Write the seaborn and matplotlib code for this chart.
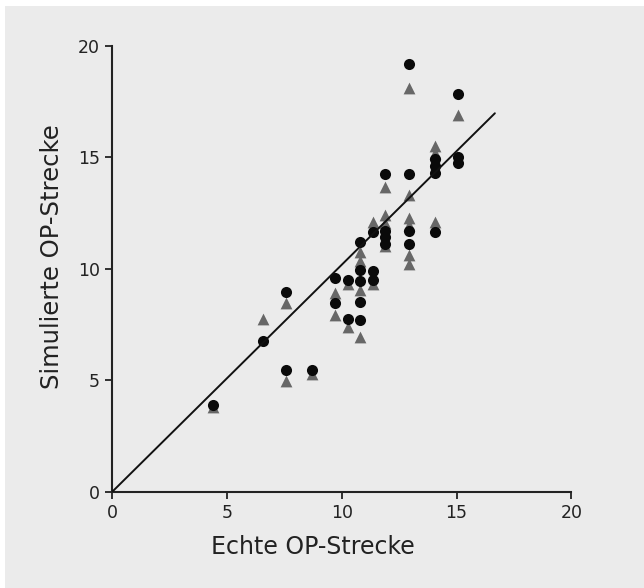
import matplotlib
matplotlib.use("Agg")
import matplotlib.pyplot as plt
import seaborn as sns
from matplotlib.patches import Rectangle

# ---- data ----
circle_x = [4.4, 6.57, 7.59, 7.59, 8.68, 9.69, 9.69, 10.28, 10.28,
            10.8, 10.8, 10.8, 10.8, 10.8, 11.37, 11.37, 11.37,
            11.9, 11.9, 11.9, 11.9, 12.93, 12.93, 12.93, 12.93,
            14.05, 14.05, 14.05, 14.05, 15.05, 15.05, 15.05]
circle_y = [3.9, 6.75, 8.97, 5.46, 5.46, 9.57, 8.45, 9.49, 7.73,
            11.2, 9.94, 9.45, 8.52, 7.7, 11.66, 9.9, 9.49,
            14.25, 11.7, 11.4, 11.1, 19.17, 14.25, 11.7, 11.1,
            14.9, 14.6, 14.3, 11.66, 17.85, 15.0, 14.75]

tri_x = [4.4, 6.57, 7.59, 7.59, 8.68, 9.69, 9.69, 10.28, 10.28,
         10.8, 10.8, 10.8, 10.8, 11.37, 11.37,
         11.9, 11.9, 11.9, 11.9, 12.93, 12.93, 12.93, 12.93, 12.93, 12.93,
         14.05, 14.05, 14.05, 15.05]
tri_y = [3.8, 7.73, 8.45, 4.95, 5.3, 8.9, 7.92, 9.3, 7.4,
         10.75, 10.35, 9.04, 6.95, 12.1, 9.3,
         13.65, 12.4, 12.05, 11.0, 18.1, 13.3, 12.27, 11.96, 10.6, 10.2,
         15.5, 15.2, 12.1, 16.9]

line_x = [0.0, 16.67]
line_y = [0.0, 16.97]

x_ticks = [0, 5, 10, 15, 20]
y_ticks = [0, 5, 10, 15, 20]
x_label = "Echte OP-Strecke"
y_label = "Simulierte OP-Strecke"

BG = "#ebebeb"

sns.set_style("white")
plt.rcParams["font.family"] = ["DejaVu Sans"]

fig = plt.figure(figsize=(6.44, 5.88), dpi=100)
fig.patch.set_facecolor("white")
fig.patches.append(Rectangle((5 / 644, 0), 1, (588 - 6) / 588, transform=fig.transFigure,
                             facecolor=BG, edgecolor="none", zorder=-10))

ax = fig.add_axes([112.3 / 644, 1 - 491.7 / 588, 459 / 644, 446 / 588])
ax.set_facecolor("none")

sns.scatterplot(x=tri_x, y=tri_y, marker="^", s=72, color="#676767",
                linewidth=0, ax=ax, zorder=2)
sns.scatterplot(x=circle_x, y=circle_y, marker="o", s=64, color="#0a0a0a",
                linewidth=0, ax=ax, zorder=3)
sns.lineplot(x=line_x, y=line_y, color="#111111", linewidth=1.4, sort=False,
             ax=ax, zorder=4)

ax.set_xlim(0, 20)
ax.set_ylim(0, 20)
ax.set_xticks(x_ticks)
ax.set_yticks(y_ticks)
ax.set_xticklabels([str(t) for t in x_ticks])
ax.set_yticklabels([str(t) for t in y_ticks])

for side in ["top", "right"]:
    ax.spines[side].set_visible(False)
for side in ["left", "bottom"]:
    ax.spines[side].set_color("#222222")
    ax.spines[side].set_linewidth(1.5)

ax.tick_params(axis="both", direction="out", length=5, width=1.3, color="#222222",
               labelsize=12.5, labelcolor="#222222", pad=4,
               bottom=True, left=True)

ax.set_xlabel(x_label, fontsize=17, color="#222222")
ax.set_ylabel(y_label, fontsize=17.5, color="#222222")
ax.xaxis.set_label_coords(0.436, -0.098)
ax.yaxis.set_label_coords(-0.105, 0.528)
ax.grid(False)

fig.savefig("out.png", dpi=100, facecolor=fig.get_facecolor())
